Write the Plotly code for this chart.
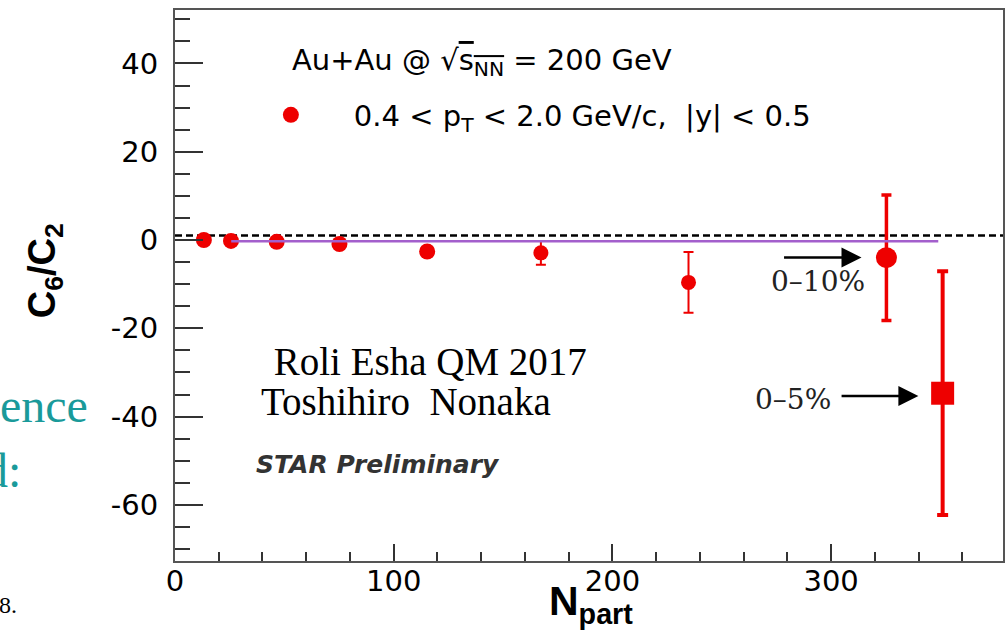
import plotly.graph_objects as go

# C6/C2 versus N_part, Au+Au at 200 GeV (centrality bins from peripheral to 0-10%)
npart = [13.2, 25.6, 46.5, 75.2, 115.3, 167.3, 234.8, 325.3]
c6_c2 = [0.0, -0.2, -0.4, -0.9, -2.6, -2.9, -9.6, -4.0]
c6_c2_err = [0.0, 0.0, 0.0, 0.0, 0.0, 2.7, 6.9, 14.2]

# 0-5% most central bin
npart_05 = [351.0]
c6_c2_05 = [-34.7]
c6_c2_05_err = [27.6]

# baseline curve
baseline_npart = [25.7, 349.0]
baseline_c6_c2 = [-0.25, -0.25]

# dashed reference level
reference_level = 1.0

# axis ticks (labels written with a plain hyphen)
x_tick_vals = [0, 100, 200, 300]
x_tick_text = ["0", "100", "200", "300"]
y_tick_vals = [-60, -40, -20, 0, 20, 40]
y_tick_text = ["-60", "-40", "-20", "0", "20", "40"]

x_range = [0, 378.6]
y_range = [-72.7, 52.1]

W, H = 1006, 642
ML, MR, MT, MB = 175, 1, 10, 81
PW, PH = W - ML - MR, H - MT - MB


def px(x):
    return (x - ML) / PW


def py(y):
    return (H - MB - y) / PH


RED = "#ee0000"
PURPLE = "#a35fcc"
AXIS = "#555555"
TICK = "#333333"

fig = go.Figure()

# peripheral bins without visible errors
fig.add_trace(go.Scatter(
    x=npart[:5], y=c6_c2[:5], mode="markers",
    marker=dict(color=RED, size=16, symbol="circle"),
    name="0.4 &lt; p<sub>T</sub> &lt; 2.0 GeV/c,  |y| &lt; 0.5",
    showlegend=True,
))
# mid-central bins
fig.add_trace(go.Scatter(
    x=npart[5:7], y=c6_c2[5:7], mode="markers",
    marker=dict(color=RED, size=15),
    error_y=dict(type="data", array=c6_c2_err[5:7], color=RED, thickness=2, width=5),
    showlegend=False,
))
# 0-10%
fig.add_trace(go.Scatter(
    x=npart[7:], y=c6_c2[7:], mode="markers",
    marker=dict(color=RED, size=21),
    error_y=dict(type="data", array=c6_c2_err[7:], color=RED, thickness=3.5, width=5),
    showlegend=False,
))
# 0-5%
fig.add_trace(go.Scatter(
    x=npart_05, y=c6_c2_05, mode="markers",
    marker=dict(color=RED, size=23, symbol="square"),
    error_y=dict(type="data", array=c6_c2_05_err, color=RED, thickness=4, width=5.5),
    showlegend=False,
))
# baseline
fig.add_trace(go.Scatter(
    x=baseline_npart, y=baseline_c6_c2, mode="lines",
    line=dict(color=PURPLE, width=2.5), showlegend=False,
))

fig.add_shape(type="line", xref="paper", yref="y", x0=0, x1=1,
              y0=reference_level, y1=reference_level,
              line=dict(color="black", width=2.5, dash="7px,4px"), layer="below")

tick_font = dict(family="DejaVu Sans", size=29, color="black")

fig.update_xaxes(
    range=x_range, showline=True, linecolor=AXIS, linewidth=2, mirror=True,
    ticks="inside", ticklen=17, tickwidth=1.5, tickcolor=TICK,
    tickmode="array", tickvals=x_tick_vals, ticktext=x_tick_text,
    showgrid=False, zeroline=False,
    minor=dict(dtick=20, tick0=0, ticks="inside", ticklen=9, tickwidth=1.5,
               tickcolor=TICK, showgrid=False),
    tickfont=tick_font, ticklabelstandoff=-7,
)
fig.update_yaxes(
    range=y_range, showline=True, linecolor=AXIS, linewidth=2, mirror=True,
    ticks="inside", ticklen=28, tickwidth=1.5, tickcolor=TICK,
    tickmode="array", tickvals=y_tick_vals, ticktext=y_tick_text,
    showgrid=False, zeroline=False,
    minor=dict(dtick=5, tick0=0, ticks="inside", ticklen=15, tickwidth=1.5,
               tickcolor=TICK, showgrid=False),
    tickfont=tick_font, ticklabelstandoff=9,
)

annotations = [
    # axis titles
    dict(text="C<sub>6</sub>/C<sub>2</sub>", x=px(45), y=py(271), textangle=-90,
         xanchor="center",
         font=dict(family="Liberation Sans", size=38, color="black", weight="bold")),
    dict(text="N<sub>part</sub>", x=px(592), y=py(604), xanchor="center",
         font=dict(family="Liberation Sans", size=41, color="black", weight="bold")),
    # header
    dict(text="Au+Au @ √<span style='text-decoration:overline'>s<sub>NN</sub></span> = 200 GeV",
         x=px(290), y=py(62), xanchor="left",
         font=dict(family="DejaVu Sans", size=29, color="black")),
    # centrality labels
    dict(text="0–10%", x=px(820), y=py(281), xanchor="center",
         font=dict(family="DejaVu Serif", size=28, color="#222222")),
    dict(text="0–5%", x=px(794), y=py(400), xanchor="center",
         font=dict(family="DejaVu Serif", size=28, color="#222222")),
    # credits
    dict(text=" Roli Esha QM 2017", x=px(262), y=py(361), xanchor="left",
         font=dict(family="Liberation Serif", size=39, color="black")),
    dict(text="Toshihiro  Nonaka", x=px(259), y=py(402), xanchor="left",
         font=dict(family="Liberation Serif", size=39, color="black")),
    dict(text="STAR Preliminary", x=px(254), y=py(464), xanchor="left",
         font=dict(family="DejaVu Sans", size=25, color="#333333", weight="bold", style="italic")),
    # slide text at the left edge
    dict(text="ence", x=px(90), y=py(405), xanchor="right",
         font=dict(family="Liberation Serif", size=48, color="#1a9a9a")),
    dict(text="d:", x=px(23), y=py(470), xanchor="right",
         font=dict(family="Liberation Serif", size=48, color="#1a9a9a")),
    dict(text="8.", x=px(19), y=py(605), xanchor="right",
         font=dict(family="Liberation Serif", size=24, color="black")),
]
for a in annotations:
    a.setdefault("xref", "paper")
    a.setdefault("yref", "paper")
    a.setdefault("showarrow", False)
    a.setdefault("yanchor", "middle")
    fig.add_annotation(**a)

# arrows pointing to the central bins
for tail_x, head_x, level in [(277.8, 313.9, -3.96), (304.1, 339.9, -35.3)]:
    fig.add_annotation(x=head_x, y=level, ax=tail_x, ay=level, xref="x", yref="y",
                       axref="x", ayref="y", text="", showarrow=True,
                       arrowhead=2, arrowsize=1.6, arrowwidth=2.5, arrowcolor="black",
                       standoff=0)

fig.update_layout(
    width=W, height=H,
    margin=dict(l=ML, r=MR, t=MT, b=MB, pad=0),
    paper_bgcolor="white", plot_bgcolor="white",
    showlegend=True,
    legend=dict(x=px(228), y=py(115), xanchor="left", yanchor="middle",
                bgcolor="rgba(0,0,0,0)", borderwidth=0, itemwidth=116,
                font=dict(family="DejaVu Sans", size=29, color="black")),
)

fig.write_html("out.html")
